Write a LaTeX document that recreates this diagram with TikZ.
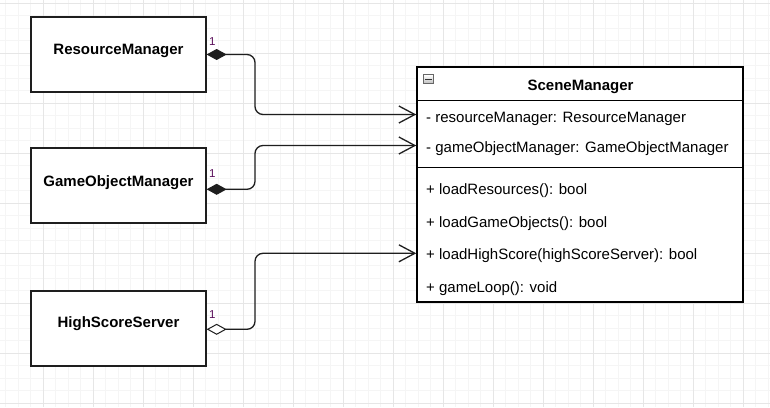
\documentclass[tikz,border=0pt]{standalone}
\usepackage{fontspec}
\setmainfont{Liberation Sans}
\usetikzlibrary{arrows.meta}
\definecolor{gridmajor}{HTML}{E6E6E6}
\definecolor{gridminor}{HTML}{F5F5F5}
\definecolor{edgecol}{HTML}{1E1E1E}
\definecolor{multcol}{HTML}{5A0F5A}
\tikzset{
  minorgrid/.style={draw=gridminor, line width=0.8pt},
  majorgrid/.style={draw=gridmajor, line width=1pt},
  clsbox/.style={draw=edgecol, line width=1.3pt, fill=white, minimum width=175pt, minimum height=75pt, inner sep=0pt},
  clsname/.style={font=\fontsize{15}{18}\selectfont\bfseries, anchor=base, inner sep=0pt},
  smbox/.style={draw=black, line width=1.5pt, fill=white, minimum width=326pt, minimum height=235pt, inner sep=0pt},
  rowtext/.style={font=\fontsize{15}{18}\selectfont, anchor=base west, inner sep=0pt},
  multtext/.style={font=\fontsize{11.5}{13}\selectfont, text=multcol, anchor=base west, inner sep=0pt},
  conn/.style={draw=edgecol, line width=1.3pt, rounded corners=8pt},
  comp/.style={conn, {Diamond[length=20pt,width=11pt,line width=1pt]}-{Straight Barb[length=16pt,width=17pt,line width=1.3pt]}},
  aggr/.style={conn, {Diamond[open,fill=white,length=20pt,width=11pt,line width=1pt]}-{Straight Barb[length=16pt,width=17pt,line width=1.3pt]}}
}
\begin{document}
\begin{tikzpicture}[x=1pt,y=-1pt]
\useasboundingbox (0,0) rectangle (770,407);
\fill[white] (0,0) rectangle (770,407);
% grid
\foreach \i in {0,...,61} {\draw[minorgrid] ({5.5+12.5*\i},0) -- ({5.5+12.5*\i},407);}
\foreach \i in {0,...,32} {\draw[minorgrid] (0,{3+12.5*\i}) -- (770,{3+12.5*\i});}
\foreach \i in {0,...,15} {\draw[majorgrid] ({43+50*\i},0) -- ({43+50*\i},407);}
\foreach \i in {0,...,8} {\draw[majorgrid] (0,{3+50*\i}) -- (770,{3+50*\i});}

% left classes
\node[clsbox] (rm) at (118.5,54.5) {};
\node[clsname] (rmlabel) at (118.5,54) {ResourceManager};
\node[clsbox] (gom) at (118.5,185.5) {};
\node[clsname] (gomlabel) at (118.5,186) {GameObjectManager};
\node[clsbox] (hss) at (118.5,328.5) {};
\node[clsname] (hsslabel) at (118.5,327.7) {HighScoreServer};

% SceneManager
\node[smbox] (sm) at (580,184.5) {};
\draw[black, line width=1.3pt] (sm.west |- 0,100.7) -- (sm.east |- 0,100.7);
\draw[black, line width=1.3pt] (sm.west |- 0,167.3) -- (sm.east |- 0,167.3);
\node[draw=gray!80!black, line width=0.6pt, top color=white, bottom color=gray!50, minimum width=9.5pt, minimum height=8.5pt, inner sep=0pt] (icon) at (428.5,79) {};
\draw[black!80, line width=1pt] ([xshift=2pt]icon.west) -- ([xshift=-2pt]icon.east);
\node[clsname] (smlabel) at (580.5,90.7) {SceneManager};
\node[rowtext] (a1) at (426,122.7) {- resourceManager: ResourceManager};
\node[rowtext] (a2) at (426,152.7) {- gameObjectManager: GameObjectManager};
\node[rowtext] (m1) at (426,194.3) {+ loadResources(): bool};
\node[rowtext] (m2) at (426,227.3) {+ loadGameObjects(): bool};
\node[rowtext] (m3) at (426,259.3) {+ loadHighScore(highScoreServer): bool};
\node[rowtext] (m4) at (426,292.7) {+ gameLoop(): void};

% ports
\coordinate (p1) at (sm.west |- 0,114.5);
\coordinate (p2) at (sm.west |- 0,145.5);
\coordinate (p3) at (sm.west |- 0,253.3);
\coordinate (s1) at (rm.east);
\coordinate (s2) at ([yshift=-3.8pt]gom.east);
\coordinate (s3) at ([yshift=-0.8pt]hss.east);

% connectors
\draw[comp] (s1) -- (s1 -| 255,0) |- (p1);
\draw[comp] (s2) -- (s2 -| 255,0) |- (p2);
\draw[aggr] (s3) -- (s3 -| 255,0) |- (p3);

% multiplicities
\node[multtext] (n1) at (209,45) {1};
\node[multtext] (n2) at (209,177.7) {1};
\node[multtext] (n3) at (209,318.3) {1};
\end{tikzpicture}
\end{document}
